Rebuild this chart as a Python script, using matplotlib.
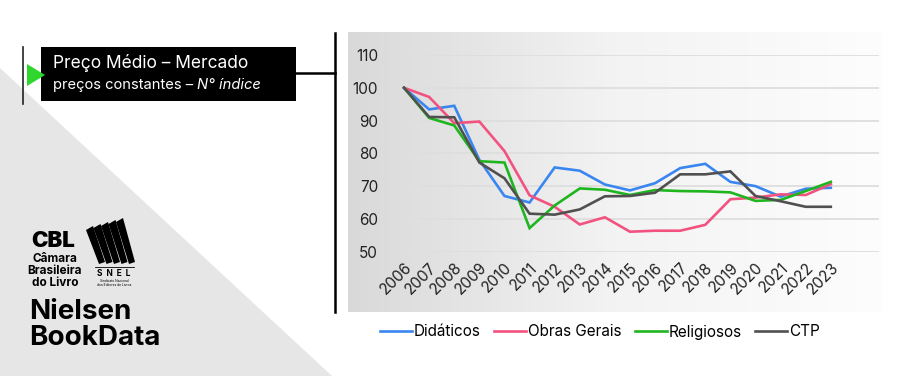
import numpy as np
import matplotlib
matplotlib.use("Agg")
import matplotlib.pyplot as plt
from matplotlib.patches import Polygon, Rectangle

plt.rcParams['font.family'] = ['Inter', 'DejaVu Sans']

# data (index, 2006 = 100)
anos = [str(a) for a in range(2006, 2024)]
didaticos = [100, 93.4, 94.5, 78.0, 67.0, 65.0, 75.7, 74.7, 70.5, 68.7, 70.9, 75.5, 76.8, 71.3, 70.0, 66.8, 69.2, 69.5]
obras_gerais = [100, 97.2, 89.2, 89.7, 80.7, 67.2, 63.7, 58.3, 60.5, 56.1, 56.4, 56.4, 58.2, 66.0, 66.5, 67.5, 67.3, 70.6]
religiosos = [100, 90.8, 88.5, 77.6, 77.2, 57.2, 64.1, 69.3, 68.9, 67.3, 68.8, 68.5, 68.4, 68.1, 65.5, 65.8, 68.5, 71.3]
ctp = [100, 91.1, 91.0, 77.2, 72.4, 61.6, 61.3, 62.9, 66.9, 67.0, 68.0, 73.6, 73.6, 74.5, 67.0, 65.4, 63.7, 63.7]

series = [
    ("Didáticos", didaticos, "#3a86f0"),
    ("Obras Gerais", obras_gerais, "#f2527f"),
    ("Religiosos", religiosos, "#1fb51f"),
    ("CTP", ctp, "#505050"),
]

W, H = 900, 376
fig = plt.figure(figsize=(9, 3.76), dpi=100)

def fx(x):
    return x / W

def fy(y):
    return 1 - y / H

# background layer in pixel coords
bg = fig.add_axes([0, 0, 1, 1], zorder=0)
bg.set_xlim(0, W)
bg.set_ylim(H, 0)
bg.axis("off")

# grey triangle bottom-left
bg.add_patch(Polygon([(0, 68), (332, 376), (0, 376)], closed=True, color="#e6e6e6", lw=0))

# gradient panel behind the chart
grad = np.linspace(0, 1, 256)[None, :]
bg.imshow(grad, extent=(348, 882, 312, 32), aspect="auto",
          cmap=matplotlib.colors.LinearSegmentedColormap.from_list("g", ["#d9d9d9", "#f3f3f3", "#fdfdfd"]),
          zorder=1)

# title box and connector lines
bg.add_patch(Rectangle((41, 47), 255, 54, color="black", lw=0, zorder=2))
bg.plot([23, 23], [47, 104], color="#222222", lw=1.2, zorder=2)
bg.add_patch(Polygon([(27, 64), (45, 75), (27, 86)], closed=True, color="#2ed62e", lw=0, zorder=3))
bg.plot([296, 335], [73, 73], color="black", lw=1.8, zorder=2)
bg.plot([335, 335], [33, 312], color="black", lw=1.8, zorder=2)
bg.text(53, 63, "Preço Médio – Mercado", color="white", fontsize=12.5, va="center", ha="left", zorder=3)
t1 = bg.text(53, 85, "preços constantes – ", color="white", fontsize=10.6, va="center", ha="left", zorder=3)
fig.canvas.draw()
bb = t1.get_window_extent()
x_end = bg.transData.inverted().transform((bb.x1, bb.y0))[0]
bg.text(x_end, 85, "N° índice", color="white", fontsize=10.6, style="italic", va="center", ha="left", zorder=3)

# logos (approximation)
bg.text(31, 241, "CBL", fontsize=16, fontweight="black", va="center", ha="left", zorder=3)
bg.text(55, 259, "Câmara", fontsize=8.5, fontweight="bold", va="center", ha="center", zorder=3)
bg.text(55, 271, "Brasileira", fontsize=8.5, fontweight="bold", va="center", ha="center", zorder=3)
bg.text(55, 283, "do Livro", fontsize=8.5, fontweight="bold", va="center", ha="center", zorder=3)
for i in range(5):
    x0 = 86 + i * 7.5
    bg.add_patch(Polygon([(x0, 230 - i * 2), (x0 + 7, 226 - i * 2), (x0 + 19, 262), (x0 + 13, 264)],
                         closed=True, color="black", lw=0, zorder=3))
bg.plot([95, 134], [267, 267], color="black", lw=0.6, zorder=3)
bg.text(114, 274, "S  N  E  L", fontsize=6, fontweight="bold", va="center", ha="center", zorder=3)
bg.text(114, 283, "Sindicato Nacional\ndos Editores de Livros", fontsize=2.4, va="center", ha="center",
        linespacing=1.0, zorder=3)
bg.text(29, 312, "Nielsen", fontsize=20, fontweight="bold", va="center", ha="left", zorder=3)
bg.text(29, 338, "BookData", fontsize=20, fontweight="bold", va="center", ha="left", zorder=3)

# chart axes
ax = fig.add_axes([fx(392), fy(251.7), fx(879 - 392), (251.7 - 55) / H], zorder=2)
ax.patch.set_alpha(0)
x = np.arange(len(anos))
for nome, vals, cor in series:
    ax.plot(x, vals, color=cor, lw=1.9, label=nome, solid_joinstyle="miter")

ax.set_ylim(50, 110)
ax.set_yticks(range(50, 111, 10))
ax.set_xlim(-0.48, len(anos) - 1 + 1.92)
ax.set_xticks(x)
ax.set_xticklabels(anos, rotation=45, ha="right", rotation_mode="anchor")
ax.tick_params(axis="both", length=0, labelsize=11, colors="#222222")
ax.tick_params(axis="y", pad=10)
ax.tick_params(axis="x", pad=6)
ax.grid(axis="y", color="#dedede", lw=1.3)
for s in ax.spines.values():
    s.set_visible(False)

fig.legend(loc="center", bbox_to_anchor=(fx(600), fy(332)), ncol=4, frameon=False,
           fontsize=11, handlelength=2.1, handletextpad=0.15, columnspacing=0.85)

fig.savefig("out.png", dpi=100)
